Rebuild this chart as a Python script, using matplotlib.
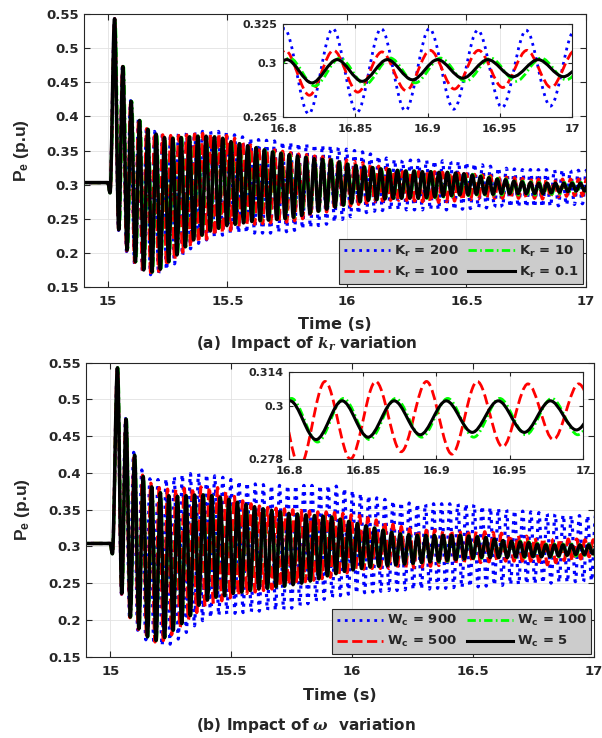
import matplotlib
matplotlib.use("Agg")
import matplotlib.pyplot as plt
import numpy as np
from matplotlib.path import Path
from matplotlib.patches import PathPatch
from matplotlib.lines import Line2D

#%% data
# steady state before the fault and the small dip before the first swing
pre_t = [14.85, 15.0, 15.009]
pre_a = [0.303, 0.303, 0.288]
pre_b = [0.304, 0.304, 0.290]

# every swing: time of first peak, period (s), peak and trough values (x1e-3 p.u)
# (a) Kr variation, order: 200, 100, 10, 0.1
kr_labels = [r'$\mathbf{K_r}$ = 200', r'$\mathbf{K_r}$ = 100',
             r'$\mathbf{K_r}$ = 10', r'$\mathbf{K_r}$ = 0.1']
kr_t0 = [15.028, 15.0285, 15.030, 15.028]
kr_period = [0.033453, 0.033453, 0.034796, 0.034796]

kr200_hi = [543, 473, 423, 396, 384, 378, 375, 374, 375, 376,
            377, 378, 378, 378, 377, 373, 370, 368, 366, 365,
            364, 363, 362, 361, 360, 359, 358, 357, 355, 352,
            350, 348, 345, 342, 339, 337, 336, 336, 336, 336,
            335, 335, 334, 334, 333, 331, 329, 327, 325, 324,
            323, 322, 322, 322, 322, 322, 322, 321, 321, 321]
kr200_lo = [233, 202, 184, 172, 168, 169, 175, 184, 196, 206,
            214, 219, 223, 226, 228, 229, 229, 229, 229, 229,
            230, 231, 233, 235, 237, 240, 242, 245, 249, 253,
            257, 259, 261, 262, 263, 263, 263, 263, 263, 263,
            263, 263, 263, 264, 265, 266, 266, 267, 267, 267,
            267, 267, 267, 267, 268, 269, 270, 271, 272, 272]
kr100_hi = [543, 473, 422, 395, 382, 376, 373, 372, 372, 373,
            374, 375, 375, 375, 372, 368, 362, 358, 355, 352,
            351, 349, 347, 345, 344, 342, 341, 340, 338, 336,
            334, 332, 330, 327, 324, 321, 319, 319, 319, 319,
            319, 318, 318, 317, 316, 315, 314, 313, 312, 311,
            310, 309, 309, 308, 308, 307, 308, 308, 308, 308]
kr100_lo = [234, 203, 186, 174, 171, 173, 181, 190, 201, 209,
            215, 220, 225, 229, 233, 237, 240, 242, 243, 244,
            244, 245, 247, 250, 253, 257, 260, 263, 266, 269,
            271, 273, 275, 276, 277, 277, 277, 276, 275, 274,
            274, 275, 276, 277, 278, 279, 279, 280, 280, 280,
            280, 280, 280, 279, 281, 282, 283, 284, 284, 285]
kr10_hi = [543, 473, 422, 394, 381, 374, 369, 368, 369, 370,
           371, 371, 370, 368, 363, 360, 357, 354, 351, 348,
           346, 344, 342, 340, 338, 337, 336, 333, 330, 328,
           326, 325, 323, 322, 321, 320, 320, 319, 319, 318,
           318, 317, 316, 315, 313, 311, 309, 308, 306, 305,
           304, 303, 303, 303, 303, 303, 303, 303]
kr10_lo = [234, 204, 187, 175, 172, 176, 187, 197, 209, 219,
           226, 232, 236, 240, 242, 244, 246, 247, 248, 249,
           250, 252, 255, 258, 261, 264, 267, 270, 273, 275,
           277, 278, 279, 280, 280, 280, 280, 280, 281, 282,
           283, 284, 284, 285, 285, 285, 285, 285, 285, 285,
           285, 285, 286, 287, 288, 288, 289, 289]
kr01_hi = [543, 473, 422, 394, 381, 374, 369, 368, 369, 370,
           371, 371, 370, 368, 363, 360, 357, 354, 351, 348,
           346, 344, 342, 340, 338, 337, 336, 333, 330, 328,
           326, 325, 323, 322, 321, 320, 320, 319, 319, 318,
           318, 317, 316, 314, 312, 310, 308, 307, 305, 304,
           303, 302, 302, 302, 302, 302, 302, 302]
kr01_lo = [234, 204, 187, 175, 172, 176, 187, 197, 209, 219,
           226, 232, 236, 240, 242, 244, 246, 247, 248, 249,
           250, 252, 255, 258, 261, 264, 267, 270, 273, 275,
           277, 278, 279, 280, 280, 280, 280, 281, 282, 283,
           284, 285, 285, 286, 286, 286, 287, 287, 287, 287,
           287, 287, 288, 289, 290, 291, 291, 292]

# (b) Wc variation, order: 900, 500, 100, 5
wc_labels = [r'$\mathbf{W_c}$ = 900', r'$\mathbf{W_c}$ = 500',
             r'$\mathbf{W_c}$ = 100', r'$\mathbf{W_c}$ = 5']
wc_t0 = [15.030, 15.030, 15.031, 15.030]
wc_period = [0.0335, 0.034506, 0.03541, 0.03541]

wc900_hi = [543, 474, 428, 404, 392, 391, 392, 395, 398, 399,
            399, 398, 396, 394, 391, 389, 387, 385, 384, 383,
            383, 383, 383, 383, 383, 383, 383, 382, 379, 376,
            372, 369, 366, 364, 362, 360, 359, 358, 358, 358,
            358, 358, 358, 358, 357, 355, 353, 352, 350, 349,
            348, 347, 346, 345, 344, 343, 342, 342, 342, 342]
wc900_lo = [235, 203, 186, 173, 167, 165, 167, 174, 183, 192,
            199, 203, 206, 208, 209, 210, 211, 212, 213, 213,
            214, 216, 219, 222, 225, 228, 230, 233, 235, 236,
            237, 238, 239, 240, 240, 241, 241, 242, 242, 243,
            243, 244, 244, 245, 245, 246, 247, 247, 248, 248,
            249, 249, 250, 250, 251, 251, 252, 252, 253, 254]
wc500_hi = [543, 473, 424, 397, 386, 380, 378, 378, 379, 380,
            381, 381, 380, 375, 368, 362, 358, 355, 353, 352,
            351, 350, 349, 348, 347, 347, 346, 345, 343, 342,
            339, 336, 333, 330, 327, 324, 322, 322, 322, 322,
            322, 322, 322, 321, 320, 319, 318, 316, 315, 314,
            312, 311, 310, 310, 310, 310, 309, 309]
wc500_lo = [235, 203, 187, 175, 170, 172, 180, 189, 200, 210,
            218, 222, 226, 230, 233, 236, 238, 240, 242, 245,
            248, 250, 252, 254, 256, 258, 261, 264, 267, 269,
            270, 270, 270, 270, 270, 271, 272, 273, 274, 275,
            276, 277, 278, 278, 279, 279, 280, 280, 280, 280,
            279, 275, 278, 281, 280, 283, 286, 287]
wc100_hi = [543, 473, 424, 395, 381, 373, 369, 368, 369, 370,
            370, 369, 367, 364, 360, 357, 354, 351, 349, 347,
            345, 344, 343, 342, 341, 340, 337, 334, 331, 328,
            325, 322, 319, 317, 316, 315, 315, 315, 315, 315,
            315, 314, 313, 312, 310, 309, 308, 307, 306, 304,
            303, 303, 303, 303, 303, 303, 303]
wc100_lo = [236, 204, 188, 177, 172, 176, 186, 195, 206, 220,
            227, 231, 233, 236, 238, 240, 242, 243, 245, 246,
            248, 250, 253, 256, 260, 263, 266, 268, 270, 272,
            273, 274, 275, 276, 277, 278, 279, 279, 280, 281,
            282, 283, 284, 284, 284, 284, 285, 285, 285, 285,
            285, 286, 287, 287, 288, 288, 289]
wc5_hi = [543, 473, 424, 395, 381, 373, 369, 368, 369, 370,
          370, 369, 367, 364, 360, 357, 354, 351, 349, 347,
          345, 344, 343, 342, 341, 340, 337, 334, 331, 328,
          325, 322, 319, 317, 316, 315, 315, 315, 315, 315,
          315, 314, 313, 312, 310, 308, 307, 306, 305, 303,
          302, 302, 302, 302, 302, 302, 302]
wc5_lo = [236, 204, 188, 177, 172, 176, 186, 195, 206, 220,
          227, 231, 233, 236, 238, 240, 242, 243, 245, 246,
          248, 250, 253, 256, 260, 263, 266, 268, 270, 272,
          273, 274, 275, 276, 277, 278, 279, 280, 281, 282,
          283, 284, 285, 285, 285, 285, 286, 286, 286, 286,
          286, 287, 288, 289, 289, 290, 290]

# ticks
main_xticks = [15, 15.5, 16, 16.5, 17]
main_xlabels = ['15', '15.5', '16', '16.5', '17']
main_yticks = [0.15, 0.2, 0.25, 0.3, 0.35, 0.4, 0.45, 0.5, 0.55]
main_ylabels = ['0.15', '0.2', '0.25', '0.3', '0.35', '0.4', '0.45', '0.5', '0.55']
zoom_xticks = [16.8, 16.85, 16.9, 16.95, 17]
zoom_xlabels = ['16.8', '16.85', '16.9', '16.95', '17']
zoom_a_yticks = [0.265, 0.3, 0.325]
zoom_a_ylabels = ['0.265', '0.3', '0.325']
zoom_b_yticks = [0.278, 0.3, 0.314]
zoom_b_ylabels = ['0.278', '0.3', '0.314']

#%% style
DARK = '#262626'
plt.rcParams.update({
    'font.family': ['DejaVu Sans'],
    'font.weight': 'bold',
    'axes.labelweight': 'bold',
    'text.color': DARK,
    'axes.labelcolor': DARK,
    'xtick.color': DARK,
    'ytick.color': DARK,
    'axes.edgecolor': DARK,
    'mathtext.fontset': 'custom',
    'mathtext.rm': 'DejaVu Sans:bold',
    'mathtext.bf': 'DejaVu Sans:bold',
    'mathtext.sf': 'Liberation Sans:bold',
    'mathtext.it': 'DejaVu Serif:italic:bold',
})

styles = [dict(color='#0000ff', ls=':', lw=2.0),
          dict(color='#ff0000', ls='--', lw=2.0),
          dict(color='#00ff00', ls=(0, (3.0, 1.2, 0.6, 1.2)), lw=2.0),
          dict(color='black', ls='-', lw=2.2)]


def swing_points(t0, period, hi, lo, pre_t, pre_v):
    k = np.arange(len(hi))
    t_hi = t0 + k * period
    t_lo = t_hi + period / 2
    t = np.concatenate([pre_t, np.column_stack([t_hi, t_lo]).ravel()])
    v = np.concatenate([pre_v, np.column_stack([hi, lo]).ravel() / 1000.0])
    return t, v


def swing_path(t, v):
    # smooth cubic between successive extrema (flat tangents at each extremum)
    dt = np.diff(t)
    c1 = np.column_stack([t[:-1] + dt / 3, v[:-1]])
    c2 = np.column_stack([t[1:] - dt / 3, v[1:]])
    end = np.column_stack([t[1:], v[1:]])
    seg = np.stack([c1, c2, end], axis=1).reshape(-1, 2)
    verts = np.vstack([[t[0], v[0]], seg])
    codes = [Path.MOVETO] + [Path.CURVE4] * len(seg)
    return Path(verts, codes)


def draw(ax, curves, which, lw_scale=1.0):
    for i in which:
        t, v = curves[i]
        st = styles[i]
        ax.add_patch(PathPatch(swing_path(t, v), fill=False, edgecolor=st['color'],
                               lw=st['lw'] * lw_scale, linestyle=st['ls'], zorder=2,
                               capstyle='butt', joinstyle='round'))


def style_axes(ax, xlim, ylim, xt, xl, yt, yl, fs, tlen, xpad, ypad):
    ax.set_xlim(*xlim)
    ax.set_ylim(*ylim)
    ax.set_xticks(xt, xl)
    ax.set_yticks(yt, yl)
    ax.tick_params(direction='in', top=True, right=True, length=tlen, width=0.8,
                   labelsize=fs)
    ax.tick_params(axis='x', pad=xpad)
    ax.tick_params(axis='y', pad=ypad)
    ax.grid(True, color='#e2e2e2', lw=0.6)
    for s in ax.spines.values():
        s.set_linewidth(0.8)
        s.set_color(DARK)


curves_a = [swing_points(kr_t0[i], kr_period[i], h, l, pre_t, pre_a) for i, (h, l) in
            enumerate([(kr200_hi, kr200_lo), (kr100_hi, kr100_lo),
                       (kr10_hi, kr10_lo), (kr01_hi, kr01_lo)])]
curves_b = [swing_points(wc_t0[i], wc_period[i], h, l, pre_t, pre_b) for i, (h, l) in
            enumerate([(wc900_hi, wc900_lo), (wc500_hi, wc500_lo),
                       (wc100_hi, wc100_lo), (wc5_hi, wc5_lo)])]

handles = [Line2D([], [], color=s['color'], ls=s['ls'], lw=s['lw']) for s in styles]

fig = plt.figure(figsize=(6.02, 7.38), dpi=100)

panels = [
    dict(rect=[0.1395, 0.6111, 0.8339, 0.3699], inset=[0.4701, 0.8415, 0.4801, 0.1260],
         curves=curves_a, labels=kr_labels, zy=(0.265, 0.325), zyt=zoom_a_yticks,
         zyl=zoom_a_ylabels, inset_series=[0, 1, 2, 3], xlab_y=-0.11, ylab_x=-0.105,
         caption=r'(a)  Impact of $k_r$ variation', cap_xy=(0.5091, 0.5352)),
    dict(rect=[0.1429, 0.1102, 0.8439, 0.3984], inset=[0.4806, 0.3780, 0.4884, 0.1183],
         curves=curves_b, labels=wc_labels, zy=(0.278, 0.314), zyt=zoom_b_yticks,
         zyl=zoom_b_ylabels, inset_series=[1, 2, 3], xlab_y=-0.106, ylab_x=-0.107,
         caption=r'(b) Impact of $\omega$  variation', cap_xy=(0.5075, 0.0176)),
]

for p in panels:
    ax = fig.add_axes(p['rect'])
    draw(ax, p['curves'], [0, 1, 2, 3], lw_scale=1.15)
    style_axes(ax, (14.9, 17), (0.15, 0.55), main_xticks, main_xlabels,
               main_yticks, main_ylabels, 9.5, 4, 6.0, 3.5)
    ax.set_xlabel('Time (s)', fontsize=11.5)
    ax.xaxis.set_label_coords(0.5, p['xlab_y'])
    ax.set_ylabel(r'$\mathsf{P_e}$ (p.u)', fontsize=12.5, family='Liberation Sans')
    ax.yaxis.set_label_coords(p['ylab_x'], 0.5)
    leg = ax.legend(handles, p['labels'], ncol=2, loc='lower right', fontsize=9.5,
                    facecolor='#cccccc', edgecolor=DARK, framealpha=1, fancybox=False,
                    handlelength=3.5, handletextpad=0.3, columnspacing=0.75,
                    labelspacing=0.45, borderpad=0.35, borderaxespad=0.2)
    leg.get_frame().set_linewidth(0.8)

    axi = fig.add_axes(p['inset'])
    draw(axi, p['curves'], p['inset_series'])
    style_axes(axi, (16.8, 17), p['zy'], zoom_xticks, zoom_xlabels,
               p['zyt'], p['zyl'], 8, 3, 5.0, 4.0)

    fig.text(p['cap_xy'][0], p['cap_xy'][1], p['caption'], fontsize=11,
             ha='center', va='center')

plt.savefig('out.png', dpi=100)
